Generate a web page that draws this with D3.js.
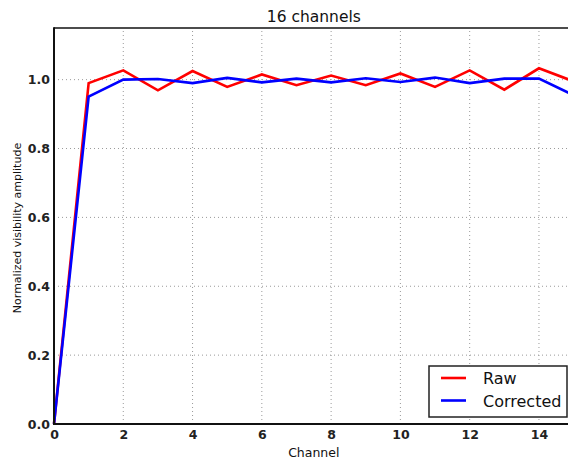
<!DOCTYPE html>
<html>
<head>
<meta charset="utf-8">
<script src="https://cdn.jsdelivr.net/npm/d3@7"></script>
<style>
  body { margin: 0; background: #fff; }
  svg { display: block; font-family: "DejaVu Sans", sans-serif; }
</style>
</head>
<body>
<div id="chart"></div>
<script>
// channel index 0..15
const channels = [0, 1, 2, 3, 4, 5, 6, 7, 8, 9, 10, 11, 12, 13, 14, 15];
const rawValues = [0, 0.99, 1.027, 0.969, 1.025, 0.979, 1.015, 0.984, 1.012, 0.984, 1.018, 0.979, 1.027, 0.971, 1.033, 0.995];
const correctedValues = [0, 0.951, 1.0, 1.002, 0.99, 1.005, 0.992, 1.003, 0.992, 1.004, 0.993, 1.006, 0.99, 1.003, 1.003, 0.955];
const xTicks = [0, 2, 4, 6, 8, 10, 12, 14];
const yTicks = [0, 0.2, 0.4, 0.6, 0.8, 1.0];
const seriesNames = ["Raw", "Corrected"];
const seriesColors = ["#ff0000", "#0000ff"];

const width = 568, height = 462;
const margin = { top: 28, left: 54, bottom: 38 };
// the axes run a bit past the right edge of the window
const plotRight = 573.6;

const svg = d3.select("#chart").append("svg")
  .attr("width", width)
  .attr("height", height);

const x = d3.scaleLinear().domain([0, 15]).range([margin.left, plotRight]);
const y = d3.scaleLinear().domain([0, 1.15]).range([height - margin.bottom, margin.top]);

// grid lines
const grid = svg.append("g").attr("class", "grid");
grid.selectAll(".vgrid")
  .data(xTicks.filter(d => d > 0))
  .enter().append("line")
  .attr("x1", d => x(d)).attr("x2", d => x(d))
  .attr("y1", y(0)).attr("y2", y(1.15))
  .attr("stroke", "#9a9a9a")
  .attr("stroke-width", 1)
  .attr("stroke-dasharray", "1,3");
grid.selectAll(".hgrid")
  .data(yTicks.filter(d => d > 0))
  .enter().append("line")
  .attr("x1", x(0)).attr("x2", plotRight)
  .attr("y1", d => y(d)).attr("y2", d => y(d))
  .attr("stroke", "#9a9a9a")
  .attr("stroke-width", 1)
  .attr("stroke-dasharray", "1,3");

// lines
const rows = channels.map((c, i) => ({ c, raw: rawValues[i], cor: correctedValues[i] }));
const series = [
  { name: seriesNames[0], color: seriesColors[0], key: "raw" },
  { name: seriesNames[1], color: seriesColors[1], key: "cor" },
];
series.forEach(s => {
  svg.append("path")
    .datum(rows)
    .attr("fill", "none")
    .attr("stroke", s.color)
    .attr("stroke-width", 2.6)
    .attr("stroke-linejoin", "miter")
    .attr("d", d3.line().x(d => x(d.c)).y(d => y(d[s.key])));
});

// axes
const xAxis = svg.append("g")
  .attr("transform", `translate(0,${y(0)})`)
  .call(d3.axisBottom(x).tickValues(xTicks).tickFormat(d3.format("d")).tickSize(0).tickPadding(6));
const yAxis = svg.append("g")
  .attr("transform", `translate(${x(0)},0)`)
  .call(d3.axisLeft(y).tickValues(yTicks).tickFormat(d3.format(".1f")).tickSize(0).tickPadding(4));
[xAxis, yAxis].forEach(a => {
  a.select(".domain").remove();
  a.selectAll("text")
    .attr("font-family", "DejaVu Sans")
    .attr("font-size", 12.5)
    .attr("font-weight", "bold")
    .attr("fill", "#222");
});

// frame
svg.append("line")
  .attr("x1", x(0)).attr("x2", plotRight)
  .attr("y1", y(0)).attr("y2", y(0))
  .attr("stroke", "#111").attr("stroke-width", 2);
svg.append("line")
  .attr("x1", x(0)).attr("x2", plotRight)
  .attr("y1", y(1.15)).attr("y2", y(1.15))
  .attr("stroke", "#111").attr("stroke-width", 1.5);
svg.append("line")
  .attr("x1", x(0)).attr("x2", x(0))
  .attr("y1", y(0) + 1).attr("y2", y(1.15) - 0.75)
  .attr("stroke", "#111").attr("stroke-width", 2);

// title and labels
svg.append("text")
  .attr("x", (margin.left + plotRight) / 2)
  .attr("y", 22)
  .attr("text-anchor", "middle")
  .attr("font-size", 15.5)
  .attr("fill", "#111")
  .text("16 channels");

svg.append("text")
  .attr("x", (margin.left + plotRight) / 2)
  .attr("y", 457)
  .attr("text-anchor", "middle")
  .attr("font-size", 12.5)
  .attr("fill", "#111")
  .text("Channel");

svg.append("text")
  .attr("transform", `translate(21,${(y(0) + y(1.15)) / 2 + 2}) rotate(-90)`)
  .attr("text-anchor", "middle")
  .attr("font-size", 11)
  .attr("fill", "#111")
  .text("Normalized visibility amplitude");

// legend
const legend = svg.append("g").attr("transform", "translate(429,366)");
legend.append("rect")
  .attr("width", 138).attr("height", 51)
  .attr("fill", "#fff")
  .attr("stroke", "#222")
  .attr("stroke-width", 1.5);
series.forEach((s, i) => {
  const ly = 12 + i * 22.5;
  legend.append("line")
    .attr("x1", 12).attr("x2", 37)
    .attr("y1", ly).attr("y2", ly)
    .attr("stroke", s.color)
    .attr("stroke-width", 2.6);
  legend.append("text")
    .attr("x", 54).attr("y", ly + 6)
    .attr("font-size", 16)
    .attr("fill", "#111")
    .text(s.name);
});
</script>
</body>
</html>
